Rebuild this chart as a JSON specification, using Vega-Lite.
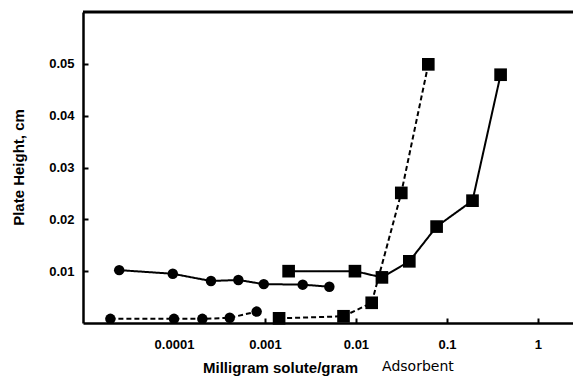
{
  "$schema": "https://vega.github.io/schema/vega-lite/v6.json",
  "width": 490,
  "height": 311,
  "autosize": {"type": "none"},
  "padding": {"left": 83, "top": 12, "right": 0, "bottom": 55},
  "background": "white",
  "config": {
    "view": {"stroke": null},
    "font": "Liberation Sans",
    "axis": {
      "grid": false,
      "domainColor": "black",
      "domainWidth": 2.5,
      "tickColor": "black",
      "tickWidth": 2,
      "labelColor": "black",
      "labelFont": "Liberation Sans",
      "labelFontWeight": "bold",
      "labelFontSize": 13,
      "titleColor": "black",
      "titleFont": "Liberation Sans",
      "titleFontWeight": "bold",
      "titleFontSize": 15
    }
  },
  "datasets": {
    "pts": [
      {"x": 0.000025, "y": 0.0102, "series": "A", "marker": "circle", "style": "solid"},
      {"x": 0.000097, "y": 0.0095, "series": "A", "marker": "circle", "style": "solid"},
      {"x": 0.000255, "y": 0.0081, "series": "A", "marker": "circle", "style": "solid"},
      {"x": 0.00051, "y": 0.0083, "series": "A", "marker": "circle", "style": "solid"},
      {"x": 0.00097, "y": 0.0075, "series": "A", "marker": "circle", "style": "solid"},
      {"x": 0.0026, "y": 0.0074, "series": "A", "marker": "circle", "style": "solid"},
      {"x": 0.0051, "y": 0.0070, "series": "A", "marker": "circle", "style": "solid"},
      {"x": 0.00002, "y": 0.0008, "series": "B", "marker": "circle", "style": "dashed"},
      {"x": 0.0001, "y": 0.0008, "series": "B", "marker": "circle", "style": "dashed"},
      {"x": 0.000205, "y": 0.0008, "series": "B", "marker": "circle", "style": "dashed"},
      {"x": 0.00041, "y": 0.0010, "series": "B", "marker": "circle", "style": "dashed"},
      {"x": 0.00081, "y": 0.0022, "series": "B", "marker": "circle", "style": "dashed"},
      {"x": 0.00182, "y": 0.0100, "series": "C", "marker": "square", "style": "solid"},
      {"x": 0.00975, "y": 0.0100, "series": "C", "marker": "square", "style": "solid"},
      {"x": 0.0193, "y": 0.0088, "series": "C", "marker": "square", "style": "solid"},
      {"x": 0.0386, "y": 0.0119, "series": "C", "marker": "square", "style": "solid"},
      {"x": 0.077, "y": 0.0186, "series": "C", "marker": "square", "style": "solid"},
      {"x": 0.191, "y": 0.0236, "series": "C", "marker": "square", "style": "solid"},
      {"x": 0.389, "y": 0.0479, "series": "C", "marker": "square", "style": "solid"},
      {"x": 0.00143, "y": 0.0009, "series": "D", "marker": "square", "style": "dashed"},
      {"x": 0.0073, "y": 0.0013, "series": "D", "marker": "square", "style": "dashed"},
      {"x": 0.0149, "y": 0.0039, "series": "D", "marker": "square", "style": "dashed"},
      {"x": 0.0315, "y": 0.0251, "series": "D", "marker": "square", "style": "dashed"},
      {"x": 0.0624, "y": 0.0499, "series": "D", "marker": "square", "style": "dashed"}
    ],
    "labels": [{"text": "Adsorbent", "x": 0.048, "y": -0.0085}],
    "frame": [{"y": 0.06}]
  },
  "layer": [
    {
      "data": {"name": "pts"},
      "mark": {"type": "line", "color": "black", "strokeWidth": 2},
      "encoding": {
        "x": {
          "field": "x", "type": "quantitative",
          "scale": {"type": "log", "domain": [0.00001, 2.43], "nice": false},
          "axis": {
            "values": [0.0001, 0.001, 0.01, 0.1, 1],
            "format": "~g",
            "tickSize": -5,
            "labelPadding": 20,
            "title": "Milligram solute/gram",
            "titleX": 197,
            "titleY": 44,
            "titleAlign": "center",
            "titleBaseline": "middle"
          }
        },
        "y": {
          "field": "y", "type": "quantitative",
          "scale": {"domain": [0, 0.06], "nice": false, "zero": true},
          "axis": {
            "values": [0.01, 0.02, 0.03, 0.04, 0.05],
            "format": ".2f",
            "tickSize": -5,
            "labelPadding": 14,
            "title": "Plate Height, cm",
            "titleX": -65,
            "titleY": 155,
            "titleAlign": "center",
            "titleBaseline": "middle"
          }
        },
        "detail": {"field": "series"},
        "strokeDash": {
          "field": "style", "type": "nominal",
          "scale": {"domain": ["solid", "dashed"], "range": [[1, 0], [5, 3]]},
          "legend": null
        }
      }
    },
    {
      "data": {"name": "pts"},
      "mark": {"type": "point", "filled": true, "opacity": 1, "color": "black"},
      "encoding": {
        "x": {"field": "x", "type": "quantitative", "title": "Milligram solute/gram"},
        "y": {"field": "y", "type": "quantitative", "title": "Plate Height, cm"},
        "shape": {
          "field": "marker", "type": "nominal",
          "scale": {"domain": ["circle", "square"], "range": ["circle", "square"]},
          "legend": null
        },
        "size": {
          "field": "marker", "type": "nominal",
          "scale": {"domain": ["circle", "square"], "range": [110, 160]},
          "legend": null
        }
      }
    },
    {
      "data": {"name": "frame"},
      "mark": {"type": "rule", "color": "black", "strokeWidth": 3},
      "encoding": {"y": {"field": "y", "type": "quantitative", "title": "Plate Height, cm"}}
    },
    {
      "data": {"name": "labels"},
      "mark": {"type": "text", "font": "DejaVu Sans", "fontSize": 14, "color": "black", "align": "center", "baseline": "middle"},
      "encoding": {
        "x": {"field": "x", "type": "quantitative", "title": "Milligram solute/gram"},
        "y": {"field": "y", "type": "quantitative", "title": "Plate Height, cm"},
        "text": {"field": "text"}
      }
    }
  ]
}
